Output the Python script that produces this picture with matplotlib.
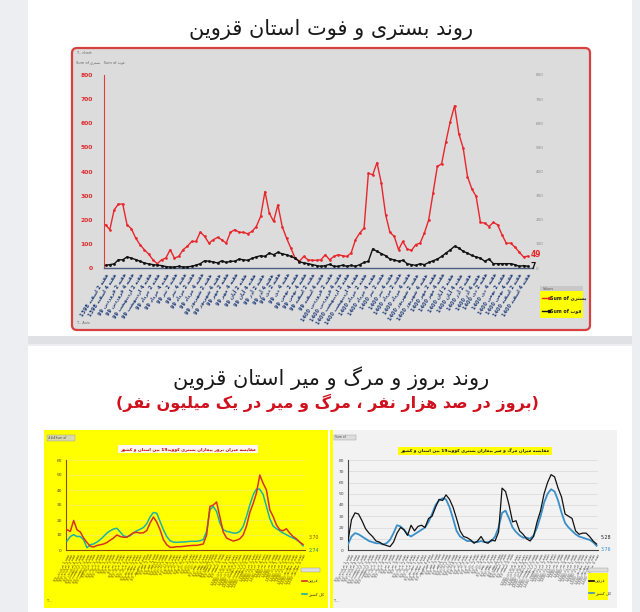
import re
import matplotlib
matplotlib.use('Agg')
import matplotlib.pyplot as plt
from matplotlib.patches import Rectangle, FancyBboxPatch
from matplotlib.lines import Line2D

plt.rcParams['font.family'] = ['DejaVu Sans']

# ---------------- data ----------------
# weekly hospitalised (بستری) and deaths (فوت), Qazvin
hosp = [179, 159, 241, 265, 265, 179, 163, 124, 97, 76,
        58, 34, 18, 34, 41, 76, 41, 48, 76, 90,
        110, 110, 149, 131, 103, 117, 127, 117, 103, 148,
        159, 148, 148, 142, 152, 172, 214, 317, 228, 193,
        262, 172, 124, 83, 41, 28, 48, 34, 32, 32,
        34, 55, 34, 48, 55, 51, 48,
        62, 117, 145, 166, 393, 386, 437, 352, 221, 148,
        131, 76, 110, 79, 73, 97, 103, 145, 200, 310,
        421, 432, 524, 607, 673, 556, 497, 379, 328, 297,
        189, 186, 172, 189, 179, 138, 103, 103, 87, 66,
        46, 49]
deaths = [11, 14, 17, 34, 34, 46, 41, 35, 28, 21,
          17, 14, 12, 10, 6, 4, 4, 7, 4, 5,
          7, 12, 18, 30, 28, 25, 21, 30, 23, 28,
          28, 37, 34, 32, 40, 46, 51, 48, 62, 55,
          65, 59, 55, 48, 41, 26, 21, 18, 14, 10,
          7, 10, 15, 7, 7, 12, 7,
          11, 7, 14, 23, 28, 79, 69, 60, 51, 37,
          34, 28, 32, 18, 14, 11, 18, 14, 23, 30,
          37, 48, 62, 75, 90, 83, 69, 62, 52, 46,
          41, 28, 37, 18, 18, 18, 18, 18, 14, 7,
          10, 7]

# incidence per 100k: Qazvin vs whole country
inc_qazvin = [13.5, 12.4, 19.7, 13.5, 12, 8, 5, 2.5, 2, 3,
              3.5, 4, 5, 6.5, 8, 10, 9, 8.5, 8.5, 10,
              11.5, 11.8, 11.3, 11.5, 13, 18, 22, 18.6, 13.5, 6.9,
              3.5, 1.8, 1.8, 2.2, 2.2, 2.4, 2.7, 2.9, 3.1, 3.1,
              3.5, 4, 10, 29, 30, 32, 22, 12, 8, 6.9,
              6, 6.5, 7.5, 10, 16, 25, 31, 38, 50, 44.5,
              40, 26.8, 22.4, 16.8, 13.5, 12.8, 14.2, 11.3, 9, 7.5,
              5.3, 3.7]
inc_iran = [6, 9, 10.2, 9, 9, 6.9, 1.5, 3.5, 4, 5.3,
            6.9, 9, 11.3, 12.8, 14, 14.5, 12, 9.5, 8.8, 9.5,
            11.5, 12.8, 13.8, 15, 17.5, 22, 25, 24.5, 19, 13.5,
            9, 6.2, 5.3, 5.1, 5.3, 5.3, 5.5, 5.8, 5.8, 5.8,
            6.2, 6.9, 12.4, 26.8, 29, 25.7, 17.9, 13.5, 12.4, 12,
            11.3, 11.3, 12.4, 15.7, 22.4, 30, 36.7, 40.7, 40.5, 37,
            29, 21, 16, 14.2, 12.8, 11.3, 10.2, 9, 8, 6.9,
            5.3, 2.74]

# mortality per million: Qazvin vs whole country
mort_qazvin = [8, 27, 33, 32, 26, 19, 15, 12, 8, 7,
               5, 4, 3, 7, 15, 20, 18, 13, 22, 17,
               21, 22, 20, 28, 30, 38, 45, 44, 49, 45,
               38, 28, 17, 12, 11, 9, 6, 8, 12, 7,
               6, 9, 8, 16, 55, 52, 40, 25, 26, 17,
               14, 10, 8, 12, 25, 35, 50, 60, 67, 65,
               55, 47, 32, 30, 28, 17, 14, 15, 15, 12,
               8, 5.28]
mort_iran = [5, 12, 15, 14, 12, 10, 8, 7, 6, 6,
             5, 6, 9, 15, 22, 21, 18, 14, 12, 14,
             16, 18, 20, 25, 32, 40, 44, 46, 45, 38,
             28, 17, 12, 10, 8, 8, 7, 7, 8, 7,
             7, 8, 12, 20, 33, 35, 28, 20, 16, 13,
             11, 11, 10, 13, 20, 30, 42, 50, 54, 52,
             44, 33, 24, 20, 17, 14, 12, 11, 10, 9,
             7, 3.76]

months = ['فروردین', 'اردیبهشت', 'خرداد', 'تیر', 'مرداد', 'شهریور',
          'مهر', 'آبان', 'آذر', 'دی', 'بهمن', 'اسفند']

title_top = 'روند بستری و فوت استان قزوین'
title_mid = 'روند بروز و مرگ و میر استان قزوین'
subtitle_mid = '(بروز در صد هزار نفر ، مرگ و میر در یک میلیون نفر)'
chart_title_l = 'مقایسه میزان بروز بیماران بستری کووید19 بین استان و کشور'
chart_title_r = 'مقایسه میزان مرگ و میر بیماران بستری کووید19 بین استان و کشور'
name_hosp, name_death = 'بستری', 'فوت'
name_prov, name_country = 'قزوین', 'کل کشور'

# ---------------- persian shaping (no raqm in matplotlib) ----------------
FORMS = {
    'ا': ('\uFE8D', '\uFE8E', None, None),
    'آ': ('\uFE81', '\uFE82', None, None),
    'ب': ('\uFE8F', '\uFE90', '\uFE91', '\uFE92'),
    'ت': ('\uFE95', '\uFE96', '\uFE97', '\uFE98'),
    'خ': ('\uFEA5', '\uFEA6', '\uFEA7', '\uFEA8'),
    'د': ('\uFEA9', '\uFEAA', None, None),
    'ذ': ('\uFEAB', '\uFEAC', None, None),
    'ر': ('\uFEAD', '\uFEAE', None, None),
    'ز': ('\uFEAF', '\uFEB0', None, None),
    'س': ('\uFEB1', '\uFEB2', '\uFEB3', '\uFEB4'),
    'ش': ('\uFEB5', '\uFEB6', '\uFEB7', '\uFEB8'),
    'ص': ('\uFEB9', '\uFEBA', '\uFEBB', '\uFEBC'),
    'ف': ('\uFED1', '\uFED2', '\uFED3', '\uFED4'),
    'ق': ('\uFED5', '\uFED6', '\uFED7', '\uFED8'),
    'ک': ('\uFB8E', '\uFB8F', '\uFB90', '\uFB91'),
    'گ': ('\uFB92', '\uFB93', '\uFB94', '\uFB95'),
    'ل': ('\uFEDD', '\uFEDE', '\uFEDF', '\uFEE0'),
    'م': ('\uFEE1', '\uFEE2', '\uFEE3', '\uFEE4'),
    'ن': ('\uFEE5', '\uFEE6', '\uFEE7', '\uFEE8'),
    'ه': ('\uFEE9', '\uFEEA', '\uFEEB', '\uFEEC'),
    'و': ('\uFEED', '\uFEEE', None, None),
    'ی': ('\uFEEF', '\uFEF0', '\uFEF3', '\uFEF4'),
}


def fa(text):
    out = []
    for i, c in enumerate(text):
        if c not in FORMS:
            out.append(c)
            continue
        iso, fin, ini, med = FORMS[c]
        pj = i > 0 and text[i - 1] in FORMS and FORMS[text[i - 1]][2] is not None
        nj = ini is not None and i + 1 < len(text) and text[i + 1] in FORMS
        out.append(med if pj and nj else fin if pj else ini if nj else iso)
    shaped = ''.join(out)
    runs = re.findall(r'[0-9A-Za-z.]+|[^0-9A-Za-z.]+', shaped)
    mirror = str.maketrans('()', ')(')
    vis = []
    for r in reversed(runs):
        if re.match(r'[0-9A-Za-z]', r):
            vis.append(r)
        else:
            vis.append(r[::-1].translate(mirror))
    return ''.join(vis)


def week_labels(n, year, month, week):
    labs = []
    for _ in range(n):
        yy = '99' if year == 1399 else str(year)
        labs.append(fa(f'هفته {week} {months[month]} {yy}'))
        week += 1
        if week > 4:
            week, month = 1, month + 1
            if month == 12:
                month, year = 0, year + 1
    return labs


W, H = 640, 612


def rect(x0, y0, x1, y1):
    return [x0 / W, 1 - y1 / H, (x1 - x0) / W, (y1 - y0) / H]


def box(x0, y0, x1, y1, **kw):
    p = Rectangle((x0 / W, 1 - y1 / H), (x1 - x0) / W, (y1 - y0) / H,
                  transform=fig.transFigure, **kw)
    fig.add_artist(p)
    return p


def ftext(x, y, s, **kw):
    kw.setdefault('zorder', 6)
    return fig.text(x / W, 1 - y / H, s, **kw)


fig = plt.figure(figsize=(6.4, 6.12), dpi=100)
fig.patch.set_facecolor('#eceef2')

# cards
box(28, 0, 632, 336, fc='white', ec='none', zorder=-3)
box(28, 336, 632, 344, fc='#dfe1e5', ec='none', zorder=-3)
box(28, 346, 632, 612, fc='white', ec='none', zorder=-3)

ftext(331, 30, fa(title_top), ha='center', va='center', fontsize=15, color='#1a1a1a')

# ---------------- top chart ----------------
panel = FancyBboxPatch((72 / W, 1 - 330 / H), (590 - 72) / W, (330 - 48) / H,
                       boxstyle='round,pad=0,rounding_size=0.008',
                       transform=fig.transFigure, fc='#dcdcdc', ec='#d6403f', lw=1.6, zorder=-2)
fig.add_artist(panel)

ax = fig.add_axes(rect(104, 75, 533, 268))
ax.set_zorder(3)
ax.patch.set_alpha(0)
x = list(range(len(hosp)))
ax.plot(x, hosp, color='#e8262c', lw=1.0, marker='o', ms=0.9, zorder=3)
ax.plot(x, deaths, color='#111111', lw=1.0, marker='s', ms=0.9, zorder=3)
ax.set_ylim(0, 800)
ax.set_xlim(-0.35, len(hosp) - 1 + 1.2)
ax.set_yticks(range(0, 801, 100))
ax.tick_params(axis='y', length=0, labelsize=4.3, labelcolor='#e02a2a', pad=8)
for t in ax.get_yticklabels():
    t.set_fontweight('bold')
for s in ['top', 'right']:
    ax.spines[s].set_visible(False)
ax.spines['left'].set_color('#e33a3a')
ax.spines['bottom'].set_color('#4c5e80')
ax.spines['bottom'].set_linewidth(1.0)
top_labels = week_labels(len(hosp), 1398, 11, 2)
ax.set_xticks(x[::2])
ax.set_xticklabels(top_labels[::2], rotation=58, ha='right', rotation_mode='anchor',
                   fontsize=3.6, color='#24407a', fontweight='bold')
ax.tick_params(axis='x', length=0, pad=3)

ax2 = ax.twinx()
ax2.set_zorder(3)
ax2.set_ylim(0, 800)
ax2.set_yticks(range(0, 801, 100))
ax2.tick_params(axis='y', length=0, labelsize=3, labelcolor='#8a8a8a', pad=2)
for s in ax2.spines.values():
    s.set_visible(False)

ax.annotate(str(hosp[-1]), (x[-1], hosp[-1]), xytext=(2, 1), textcoords='offset points',
            fontsize=5.5, color='#e8262c', va='center', fontweight='bold')
ax.annotate(str(deaths[-1]), (x[-1], deaths[-1]), xytext=(2, 0), textcoords='offset points',
            fontsize=5.5, color='#111111', va='center', fontweight='bold')

ftext(76, 53, 'T... chart', fontsize=2.6, color='#666666', va='center')
ftext(76, 62, 'Sum of ' + fa(name_hosp) + '   Sum of ' + fa(name_death),
      fontsize=2.6, color='#666666', va='center')
ftext(76, 323, 'T... Axis', fontsize=2.6, color='#666666', va='center')

# legend of top chart
box(540, 286, 583, 291, fc='#c8c8c8', ec='none', zorder=4)
ftext(543, 288.5, 'Values', fontsize=2.4, color='#555555', va='center')
box(540, 291, 583, 318, fc='#ffff00', ec='none', zorder=4)
for yy, col, mk, nm in [(298, '#e8262c', 'o', name_hosp), (311, '#111111', 's', name_death)]:
    fig.add_artist(Line2D([542 / W, 549 / W], [1 - yy / H] * 2, color=col, lw=1.0,
                          marker=mk, ms=1.4, markevery=[1], zorder=5))
    ftext(550, yy, 'Sum of ' + fa(nm), fontsize=3.4, color='#222222', va='center',
          fontweight='bold')

# ---------------- middle titles ----------------
ftext(331, 378, fa(title_mid), ha='center', va='center', fontsize=15, color='#1a1a1a')
ftext(327, 403, fa(subtitle_mid), ha='center', va='center', fontsize=11.5,
      color='#d0101c', fontweight='bold')

# ---------------- bottom left: incidence ----------------
box(44, 430, 328, 608, fc='#ffff00', ec='none', zorder=-2)
box(47, 435, 75, 441, fc='#d9d9b0', ec='#999999', lw=0.3, zorder=4)
ftext(48, 438, '###Sum of', fontsize=2.2, color='#444444', va='center')
ftext(47, 601, 'T...', fontsize=2.4, color='#444444', va='center')
ftext(188, 449, fa(chart_title_l), ha='center', va='center', fontsize=3.2, color='#c00000',
      fontweight='bold', bbox=dict(fc='#fff7f0', ec='none', pad=1.2))

bl = fig.add_axes(rect(66, 460, 305, 550))
bl.set_zorder(3)
bl.patch.set_alpha(0)
xb = list(range(len(inc_qazvin)))
bl.plot(xb, inc_iran, color='#1ab3a8', lw=1.1, zorder=3)
bl.plot(xb, inc_qazvin, color='#d8321e', lw=1.1, zorder=4)
bl.set_ylim(0, 60)
bl.set_xlim(-0.3, len(xb) - 1 + 0.6)
bl.set_yticks(range(0, 61, 10))
bl.yaxis.grid(True, color='#eeee70', lw=0.5)
bl.set_axisbelow(True)
bl.tick_params(axis='y', length=0, labelsize=3.2, labelcolor='#444444', pad=3)
for s in ['top', 'right']:
    bl.spines[s].set_visible(False)
bl.spines['left'].set_color('#8a4a10')
bl.spines['bottom'].set_color('#8a4a10')
bl.spines['left'].set_linewidth(0.8)
bl.spines['bottom'].set_linewidth(0.8)
bot_labels = week_labels(len(xb), 1399, 0, 1)
bl.set_xticks(xb)
bl.set_xticklabels(bot_labels, rotation=62, ha='right', rotation_mode='anchor',
                   fontsize=2.7, color='#6a4a00')
bl.tick_params(axis='x', length=0, pad=2)
bl.annotate('3.70', (xb[-1], inc_qazvin[-1]), xytext=(4, 5), textcoords='offset points',
            fontsize=3.4, color='#8a4a10', va='center')
bl.annotate('2.74', (xb[-1], inc_iran[-1]), xytext=(4, -3), textcoords='offset points',
            fontsize=3.4, color='#1a8a80', va='center')

box(301, 568, 320, 572, fc='#dddddd', ec='#999999', lw=0.3, zorder=4)
for yy, col, nm in [(581, '#d8321e', name_prov), (594, '#1ab3a8', name_country)]:
    fig.add_artist(Line2D([302 / W, 307 / W], [1 - yy / H] * 2, color=col, lw=1.2, zorder=5))
    ftext(308, yy, fa(nm), fontsize=3.0, color='#333333', va='center')

# ---------------- bottom right: mortality ----------------
box(330, 430, 617, 608, fc='#f2f2f2', ec='none', zorder=-2)
box(330, 430, 333, 608, fc='#ffff00', ec='none', zorder=-1)
box(334, 435, 356, 440, fc='#dddddd', ec='#999999', lw=0.3, zorder=4)
ftext(335, 437.5, 'Sum of', fontsize=2.2, color='#444444', va='center')
ftext(334, 601, 'T...', fontsize=2.4, color='#444444', va='center')
ftext(475, 451, fa(chart_title_r), ha='center', va='center', fontsize=3.2, color='#111111',
      fontweight='bold', bbox=dict(fc='#ffff00', ec='none', pad=1.5))

br = fig.add_axes(rect(348, 460, 598, 550))
br.set_zorder(3)
br.patch.set_alpha(0)
xr = list(range(len(mort_qazvin)))
br.plot(xr, mort_iran, color='#3a8fc8', lw=1.3, zorder=3)
br.plot(xr, mort_qazvin, color='#111111', lw=0.9, zorder=4)
br.set_ylim(0, 80)
br.set_xlim(0, len(xr) - 1 + 0.4)
br.set_yticks(range(0, 81, 10))
br.yaxis.grid(True, color='#d8d8d8', lw=0.5)
br.set_axisbelow(True)
br.tick_params(axis='y', length=0, labelsize=3.2, labelcolor='#444444', pad=3)
for s in ['top', 'right']:
    br.spines[s].set_visible(False)
br.spines['left'].set_color('#444444')
br.spines['bottom'].set_color('#444444')
br.spines['left'].set_linewidth(0.8)
br.spines['bottom'].set_linewidth(0.8)
br.set_xticks(xr)
br.set_xticklabels(bot_labels, rotation=62, ha='right', rotation_mode='anchor',
                   fontsize=2.7, color='#555555')
br.tick_params(axis='x', length=0, pad=2)
br.annotate('5.28', (xr[-1], mort_qazvin[-1]), xytext=(3, 5), textcoords='offset points',
            fontsize=3.4, color='#222222', va='center')
br.annotate('3.76', (xr[-1], mort_iran[-1]), xytext=(3, -3), textcoords='offset points',
            fontsize=3.4, color='#3a8fc8', va='center')

box(588, 568, 608, 572, fc='#dddddd', ec='#999999', lw=0.3, zorder=4)
box(588, 573, 608, 600, fc='#ffff00', ec='none', zorder=4)
for yy, col, nm in [(581, '#111111', name_prov), (593, '#3a8fc8', name_country)]:
    fig.add_artist(Line2D([589 / W, 594 / W], [1 - yy / H] * 2, color=col, lw=1.2, zorder=5))
    ftext(595, yy, fa(nm), fontsize=3.0, color='#333333', va='center')

fig.savefig('out.png', dpi=100, facecolor=fig.get_facecolor())
